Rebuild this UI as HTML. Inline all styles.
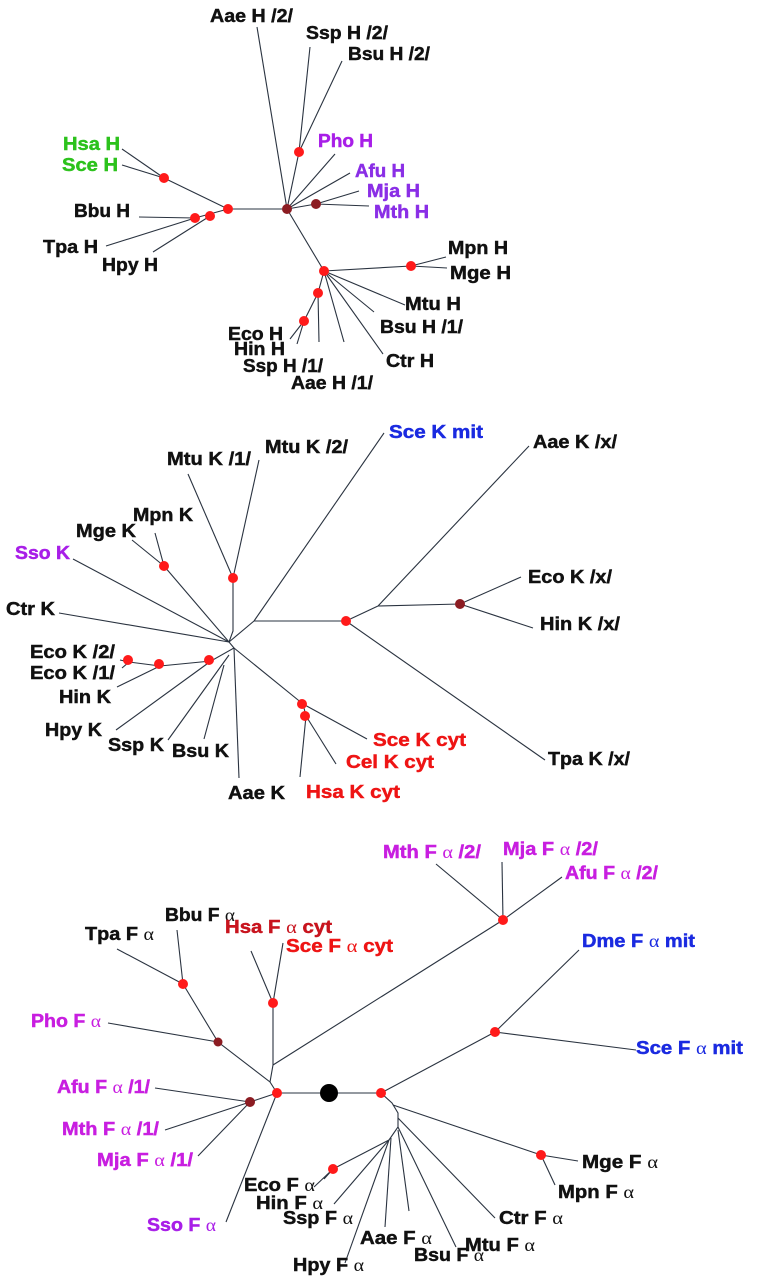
<!DOCTYPE html>
<html><head><meta charset="utf-8"><style>
html,body{margin:0;padding:0;background:#fff}
svg{display:block}
text{font-family:"Liberation Sans",sans-serif;font-weight:bold;font-size:18px;stroke-width:0.45}
.a{font-family:"Liberation Serif",serif;font-weight:normal;stroke-width:0}
.k{fill:#111;stroke:#111}.g{fill:#2cc21c;stroke:#2cc21c}.p{fill:#a81ee8;stroke:#a81ee8}.v{fill:#8a2ee6;stroke:#8a2ee6}.m{fill:#c81ee0;stroke:#c81ee0}.b{fill:#1a2ae0;stroke:#1a2ae0}.r{fill:#ee1414;stroke:#ee1414}.dr{fill:#c8141e;stroke:#c8141e}
line,polyline{stroke:#2a3340;stroke-width:1.1;fill:none}
.n{fill:#ff1a1a}.d{fill:#8c1c22}
</style></head><body>
<svg width="757" height="1280" viewBox="0 0 757 1280" xmlns="http://www.w3.org/2000/svg">
<g>
<line x1="257" y1="27" x2="287" y2="209"/>
<line x1="310" y1="47" x2="299" y2="152"/>
<line x1="342" y1="61" x2="299" y2="152"/>
<line x1="299" y1="152" x2="287" y2="209"/>
<line x1="335" y1="154" x2="287" y2="209"/>
<line x1="350" y1="173" x2="287" y2="209"/>
<line x1="359" y1="191" x2="316" y2="204"/>
<line x1="369" y1="206" x2="316" y2="204"/>
<line x1="316" y1="204" x2="287" y2="209"/>
<line x1="287" y1="209" x2="228" y2="209"/>
<line x1="228" y1="209" x2="164" y2="178"/>
<line x1="122" y1="149" x2="164" y2="178"/>
<line x1="122" y1="165" x2="164" y2="178"/>
<line x1="228" y1="209" x2="195" y2="218"/>
<line x1="139" y1="217" x2="195" y2="218"/>
<line x1="106" y1="246" x2="195" y2="218"/>
<line x1="153" y1="252" x2="210" y2="216"/>
<line x1="287" y1="209" x2="324" y2="271"/>
<line x1="324" y1="271" x2="411" y2="266"/>
<line x1="446" y1="257" x2="411" y2="266"/>
<line x1="447" y1="268" x2="411" y2="266"/>
<line x1="405" y1="305" x2="324" y2="271"/>
<line x1="374" y1="312" x2="324" y2="271"/>
<line x1="383" y1="354" x2="324" y2="271"/>
<line x1="344" y1="342" x2="324" y2="271"/>
<line x1="318" y1="293" x2="324" y2="271"/>
<line x1="319" y1="342" x2="318" y2="293"/>
<line x1="304" y1="321" x2="318" y2="293"/>
<line x1="290" y1="339" x2="304" y2="321"/>
<line x1="297" y1="344" x2="304" y2="321"/>
<circle class="n" cx="299" cy="152" r="5"/>
<circle class="d" cx="287" cy="209" r="5"/>
<circle class="d" cx="316" cy="204" r="5"/>
<circle class="n" cx="228" cy="209" r="5"/>
<circle class="n" cx="164" cy="178" r="5"/>
<circle class="n" cx="210" cy="216" r="5"/>
<circle class="n" cx="195" cy="218" r="5"/>
<circle class="n" cx="324" cy="271" r="5"/>
<circle class="n" cx="411" cy="266" r="5"/>
<circle class="n" cx="318" cy="293" r="5"/>
<circle class="n" cx="304" cy="321" r="5"/>
<text class="k" x="210" y="22" textLength="83" lengthAdjust="spacingAndGlyphs">Aae H /2/</text>
<text class="k" x="306" y="39" textLength="82" lengthAdjust="spacingAndGlyphs">Ssp H /2/</text>
<text class="k" x="348" y="60" textLength="82" lengthAdjust="spacingAndGlyphs">Bsu H /2/</text>
<text class="p" x="318" y="147" textLength="55" lengthAdjust="spacingAndGlyphs">Pho H</text>
<text class="v" x="355" y="177" textLength="50" lengthAdjust="spacingAndGlyphs">Afu H</text>
<text class="v" x="367" y="197" textLength="53" lengthAdjust="spacingAndGlyphs">Mja H</text>
<text class="v" x="374" y="218" textLength="55" lengthAdjust="spacingAndGlyphs">Mth H</text>
<text class="g" x="63" y="150" textLength="57" lengthAdjust="spacingAndGlyphs">Hsa H</text>
<text class="g" x="62" y="171" textLength="56" lengthAdjust="spacingAndGlyphs">Sce H</text>
<text class="k" x="74" y="217" textLength="56" lengthAdjust="spacingAndGlyphs">Bbu H</text>
<text class="k" x="43" y="253" textLength="55" lengthAdjust="spacingAndGlyphs">Tpa H</text>
<text class="k" x="102" y="271" textLength="56" lengthAdjust="spacingAndGlyphs">Hpy H</text>
<text class="k" x="448" y="254" textLength="60" lengthAdjust="spacingAndGlyphs">Mpn H</text>
<text class="k" x="450" y="279" textLength="61" lengthAdjust="spacingAndGlyphs">Mge H</text>
<text class="k" x="405" y="310" textLength="56" lengthAdjust="spacingAndGlyphs">Mtu H</text>
<text class="k" x="380" y="333" textLength="83" lengthAdjust="spacingAndGlyphs">Bsu H /1/</text>
<text class="k" x="386" y="367" textLength="48" lengthAdjust="spacingAndGlyphs">Ctr H</text>
<text class="k" x="228" y="340" textLength="55" lengthAdjust="spacingAndGlyphs">Eco H</text>
<text class="k" x="234" y="355" textLength="51" lengthAdjust="spacingAndGlyphs">Hin H</text>
<text class="k" x="243" y="372" textLength="80" lengthAdjust="spacingAndGlyphs">Ssp H /1/</text>
<text class="k" x="291" y="389" textLength="82" lengthAdjust="spacingAndGlyphs">Aae H /1/</text>
</g>
<g>
<line x1="384" y1="433" x2="254" y2="621"/>
<line x1="254" y1="621" x2="229" y2="642"/>
<line x1="254" y1="621" x2="346" y2="621"/>
<line x1="346" y1="621" x2="378" y2="606"/>
<line x1="529" y1="446" x2="378" y2="606"/>
<line x1="378" y1="606" x2="460" y2="604"/>
<line x1="521" y1="577" x2="460" y2="604"/>
<line x1="533" y1="628" x2="460" y2="604"/>
<line x1="346" y1="621" x2="545" y2="760"/>
<line x1="188" y1="474" x2="233" y2="578"/>
<line x1="259" y1="460" x2="233" y2="578"/>
<polyline points="233,578 233,631 229,642"/>
<line x1="132" y1="540" x2="164" y2="566"/>
<line x1="155" y1="533" x2="164" y2="566"/>
<line x1="164" y1="566" x2="229" y2="642"/>
<line x1="73" y1="559" x2="229" y2="642"/>
<line x1="59" y1="613" x2="229" y2="642"/>
<polyline points="229,642 234,648 211,661 160,666 129,662 120,660"/>
<line x1="122" y1="668" x2="129" y2="662"/>
<line x1="117" y1="687" x2="160" y2="666"/>
<line x1="116" y1="730" x2="211" y2="661"/>
<line x1="168" y1="740" x2="229" y2="655"/>
<line x1="204" y1="739" x2="224" y2="665"/>
<line x1="239" y1="778" x2="234" y2="648"/>
<line x1="234" y1="648" x2="303" y2="704"/>
<line x1="367" y1="739" x2="303" y2="704"/>
<line x1="303" y1="704" x2="306" y2="716"/>
<line x1="336" y1="764" x2="306" y2="716"/>
<line x1="300" y1="777" x2="306" y2="716"/>
<circle class="n" cx="346" cy="621" r="5"/>
<circle class="d" cx="460" cy="604" r="5"/>
<circle class="n" cx="233" cy="578" r="5"/>
<circle class="n" cx="164" cy="566" r="5"/>
<circle class="n" cx="209" cy="660" r="5"/>
<circle class="n" cx="159" cy="664" r="5"/>
<circle class="n" cx="128" cy="660" r="5"/>
<circle class="n" cx="302" cy="704" r="5"/>
<circle class="n" cx="305" cy="716" r="5"/>
<text class="b" x="389" y="438" textLength="94" lengthAdjust="spacingAndGlyphs">Sce K mit</text>
<text class="k" x="533" y="448" textLength="84" lengthAdjust="spacingAndGlyphs">Aae K /x/</text>
<text class="k" x="167" y="465" textLength="84" lengthAdjust="spacingAndGlyphs">Mtu K /1/</text>
<text class="k" x="265" y="453" textLength="83" lengthAdjust="spacingAndGlyphs">Mtu K /2/</text>
<text class="k" x="133" y="521" textLength="60" lengthAdjust="spacingAndGlyphs">Mpn K</text>
<text class="k" x="76" y="537" textLength="60" lengthAdjust="spacingAndGlyphs">Mge K</text>
<text class="p" x="15" y="559" textLength="55" lengthAdjust="spacingAndGlyphs">Sso K</text>
<text class="k" x="6" y="615" textLength="49" lengthAdjust="spacingAndGlyphs">Ctr K</text>
<text class="k" x="528" y="583" textLength="84" lengthAdjust="spacingAndGlyphs">Eco K /x/</text>
<text class="k" x="540" y="630" textLength="80" lengthAdjust="spacingAndGlyphs">Hin K /x/</text>
<text class="k" x="548" y="765" textLength="82" lengthAdjust="spacingAndGlyphs">Tpa K /x/</text>
<text class="k" x="30" y="658" textLength="85" lengthAdjust="spacingAndGlyphs">Eco K /2/</text>
<text class="k" x="30" y="679" textLength="85" lengthAdjust="spacingAndGlyphs">Eco K /1/</text>
<text class="k" x="59" y="703" textLength="52" lengthAdjust="spacingAndGlyphs">Hin K</text>
<text class="k" x="45" y="736" textLength="57" lengthAdjust="spacingAndGlyphs">Hpy K</text>
<text class="k" x="108" y="751" textLength="56" lengthAdjust="spacingAndGlyphs">Ssp K</text>
<text class="k" x="172" y="757" textLength="57" lengthAdjust="spacingAndGlyphs">Bsu K</text>
<text class="k" x="228" y="799" textLength="57" lengthAdjust="spacingAndGlyphs">Aae K</text>
<text class="r" x="373" y="746" textLength="93" lengthAdjust="spacingAndGlyphs">Sce K cyt</text>
<text class="r" x="346" y="768" textLength="88" lengthAdjust="spacingAndGlyphs">Cel K cyt</text>
<text class="r" x="306" y="798" textLength="94" lengthAdjust="spacingAndGlyphs">Hsa K cyt</text>
</g>
<g>
<line x1="277" y1="1093" x2="381" y2="1093"/>
<polyline points="277,1093 270,1082 218,1042 183,984 177,930"/>
<line x1="117" y1="949" x2="183" y2="984"/>
<line x1="108" y1="1023" x2="218" y2="1042"/>
<polyline points="270,1082 273,1065 273,1003 251,951"/>
<line x1="283" y1="943" x2="273" y2="1003"/>
<line x1="273" y1="1065" x2="503" y2="920"/>
<line x1="436" y1="864" x2="503" y2="920"/>
<line x1="502" y1="862" x2="503" y2="920"/>
<line x1="562" y1="877" x2="503" y2="920"/>
<line x1="277" y1="1093" x2="250" y2="1102"/>
<line x1="155" y1="1088" x2="250" y2="1102"/>
<line x1="165" y1="1130" x2="250" y2="1102"/>
<line x1="198" y1="1156" x2="250" y2="1102"/>
<line x1="277" y1="1093" x2="226" y2="1222"/>
<line x1="381" y1="1093" x2="495" y2="1032"/>
<line x1="579" y1="950" x2="495" y2="1032"/>
<line x1="636" y1="1050" x2="495" y2="1032"/>
<polyline points="381,1093 392,1103 398,1113 398,1127 389,1140"/>
<line x1="393" y1="1105" x2="541" y2="1155"/>
<line x1="578" y1="1161" x2="541" y2="1155"/>
<line x1="555" y1="1185" x2="541" y2="1155"/>
<line x1="398" y1="1118" x2="495" y2="1218"/>
<line x1="398" y1="1127" x2="456" y2="1247"/>
<line x1="398" y1="1130" x2="409" y2="1211"/>
<line x1="391" y1="1138" x2="385" y2="1227"/>
<line x1="389" y1="1140" x2="345" y2="1263"/>
<line x1="389" y1="1140" x2="334" y2="1204"/>
<line x1="389" y1="1140" x2="333" y2="1169"/>
<line x1="314" y1="1187" x2="333" y2="1169"/>
<line x1="324" y1="1179" x2="333" y2="1169"/>
<circle cx="329" cy="1093" r="9" fill="#000"/>
<circle class="n" cx="277" cy="1093" r="5"/>
<circle class="n" cx="381" cy="1093" r="5"/>
<circle class="d" cx="250" cy="1102" r="5"/>
<circle class="d" cx="218" cy="1042" r="4.5"/>
<circle class="n" cx="183" cy="984" r="5"/>
<circle class="n" cx="273" cy="1003" r="5"/>
<circle class="n" cx="503" cy="920" r="5"/>
<circle class="n" cx="495" cy="1032" r="5"/>
<circle class="n" cx="541" cy="1155" r="5"/>
<circle class="n" cx="333" cy="1169" r="5"/>
<text class="m" x="383" y="858" textLength="98" lengthAdjust="spacingAndGlyphs">Mth F <tspan class="a">α</tspan> /2/</text>
<text class="m" x="503" y="855" textLength="95" lengthAdjust="spacingAndGlyphs">Mja F <tspan class="a">α</tspan> /2/</text>
<text class="m" x="565" y="879" textLength="93" lengthAdjust="spacingAndGlyphs">Afu F <tspan class="a">α</tspan> /2/</text>
<text class="k" x="165" y="921" textLength="70" lengthAdjust="spacingAndGlyphs">Bbu F <tspan class="a">α</tspan></text>
<text class="k" x="85" y="940" textLength="69" lengthAdjust="spacingAndGlyphs">Tpa F <tspan class="a">α</tspan></text>
<text class="dr" x="225" y="933" textLength="107" lengthAdjust="spacingAndGlyphs">Hsa F <tspan class="a">α</tspan> cyt</text>
<text class="r" x="286" y="952" textLength="107" lengthAdjust="spacingAndGlyphs">Sce F <tspan class="a">α</tspan> cyt</text>
<text class="b" x="582" y="947" textLength="113" lengthAdjust="spacingAndGlyphs">Dme F <tspan class="a">α</tspan> mit</text>
<text class="m" x="31" y="1027" textLength="70" lengthAdjust="spacingAndGlyphs">Pho F <tspan class="a">α</tspan></text>
<text class="b" x="636" y="1054" textLength="107" lengthAdjust="spacingAndGlyphs">Sce F <tspan class="a">α</tspan> mit</text>
<text class="m" x="57" y="1093" textLength="93" lengthAdjust="spacingAndGlyphs">Afu F <tspan class="a">α</tspan> /1/</text>
<text class="m" x="62" y="1135" textLength="97" lengthAdjust="spacingAndGlyphs">Mth F <tspan class="a">α</tspan> /1/</text>
<text class="m" x="97" y="1166" textLength="96" lengthAdjust="spacingAndGlyphs">Mja F <tspan class="a">α</tspan> /1/</text>
<text class="k" x="582" y="1168" textLength="76" lengthAdjust="spacingAndGlyphs">Mge F <tspan class="a">α</tspan></text>
<text class="k" x="244" y="1191" textLength="71" lengthAdjust="spacingAndGlyphs">Eco F <tspan class="a">α</tspan></text>
<text class="k" x="558" y="1198" textLength="76" lengthAdjust="spacingAndGlyphs">Mpn F <tspan class="a">α</tspan></text>
<text class="k" x="256" y="1209" textLength="67" lengthAdjust="spacingAndGlyphs">Hin F <tspan class="a">α</tspan></text>
<text class="k" x="283" y="1224" textLength="70" lengthAdjust="spacingAndGlyphs">Ssp F <tspan class="a">α</tspan></text>
<text class="k" x="499" y="1224" textLength="64" lengthAdjust="spacingAndGlyphs">Ctr F <tspan class="a">α</tspan></text>
<text class="p" x="147" y="1231" textLength="69" lengthAdjust="spacingAndGlyphs">Sso F <tspan class="a">α</tspan></text>
<text class="k" x="360" y="1244" textLength="72" lengthAdjust="spacingAndGlyphs">Aae F <tspan class="a">α</tspan></text>
<text class="k" x="465" y="1251" textLength="70" lengthAdjust="spacingAndGlyphs">Mtu F <tspan class="a">α</tspan></text>
<text class="k" x="414" y="1261" textLength="70" lengthAdjust="spacingAndGlyphs">Bsu F <tspan class="a">α</tspan></text>
<text class="k" x="293" y="1271" textLength="71" lengthAdjust="spacingAndGlyphs">Hpy F <tspan class="a">α</tspan></text>
</g>
</svg>
</body></html>
